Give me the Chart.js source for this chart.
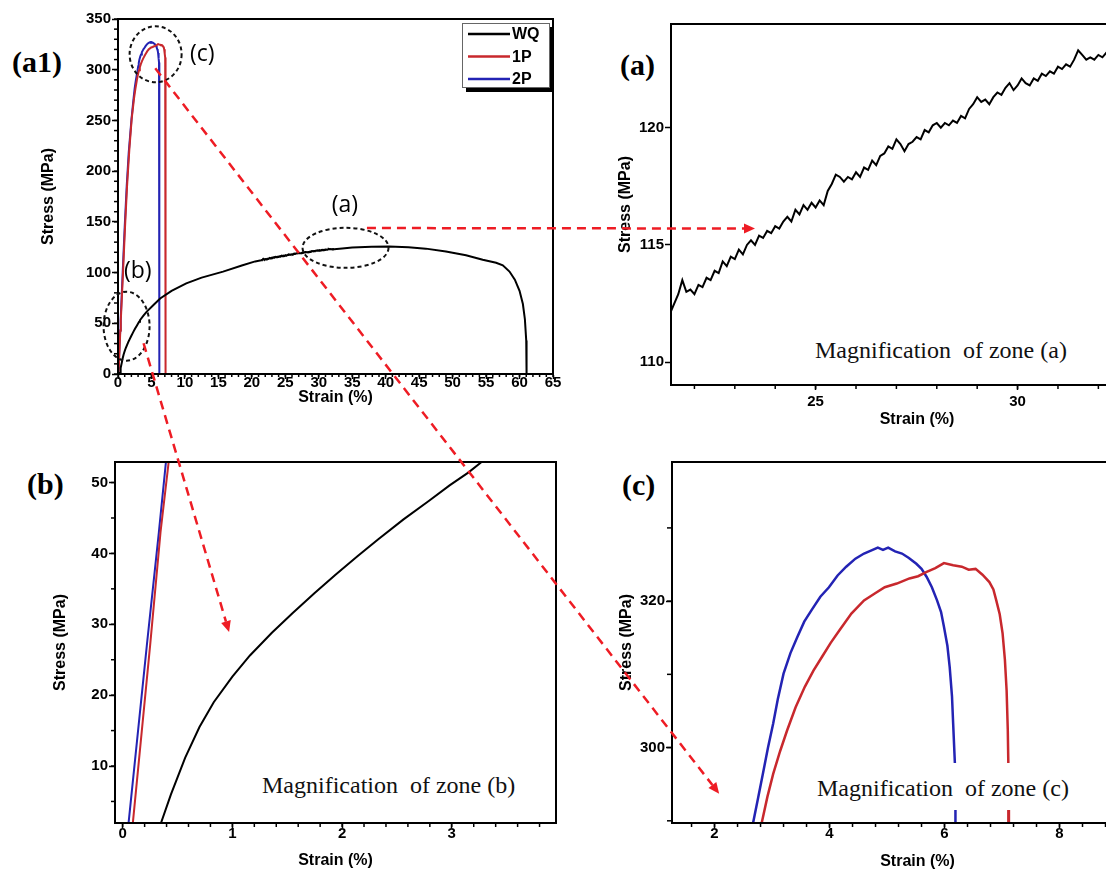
<!DOCTYPE html>
<html>
<head>
<meta charset="utf-8">
<script src="https://cdn.jsdelivr.net/npm/chart.js@4.4.1/dist/chart.umd.min.js"></script>
<style>
  html, body { margin: 0; padding: 0; background: #fff; overflow: hidden; width: 1106px; height: 870px; }
  .panel { position: absolute; }
  .tag { position: absolute; font: bold 30px "Liberation Serif", "Times New Roman", serif; line-height: 30px; color: #000; }
  .zone { position: absolute; font: 24px "Liberation Serif", "Times New Roman", serif; line-height: 24px;
          background: #fff; white-space: pre; padding: 13px 4px 10px 4px; color: #111; }
  #overlay { position: absolute; left: 0; top: 0; pointer-events: none; z-index: 5; }
</style>
</head>
<body>
<div class="tag" style="left:12px;top:47px">(a1)</div>
<div class="tag" style="left:620px;top:50px">(a)</div>
<div class="tag" style="left:27px;top:469px">(b)</div>
<div class="tag" style="left:622px;top:470px">(c)</div>
<canvas id="overlay" width="1106" height="870"></canvas>

<script>
// WQ tensile curve (strain %, stress MPa) - noisy stretch read from zone (a)
const wqStrain = [0, 0.3, 0.35, 0.44, 0.57, 0.7, 0.83, 1.0, 1.16, 1.36, 1.55, 1.75, 1.94, 2.14, 2.33, 2.56, 2.79, 2.98, 3.15, 3.28,
  3.8, 4.3, 5.3, 6.3, 8.0, 10.2, 12.5, 15.7, 18.5, 20.5,
  21.4, 21.5, 21.6, 21.7, 21.8, 21.9, 22.0, 22.1, 22.2, 22.3, 22.4, 22.5, 22.6, 22.7, 22.8, 22.9, 23.0, 23.1, 23.2, 23.3,
  23.4, 23.5, 23.6, 23.7, 23.8, 23.9, 24.0, 24.1, 24.2, 24.3, 24.4, 24.5, 24.6, 24.7, 24.8, 24.9, 25.0, 25.1, 25.2, 25.3,
  25.4, 25.5, 25.6, 25.7, 25.8, 25.9, 26.0, 26.1, 26.2, 26.3, 26.4, 26.5, 26.6, 26.7, 26.8, 26.9, 27.0, 27.1, 27.2, 27.3,
  27.4, 27.5, 27.6, 27.7, 27.8, 27.9, 28.0, 28.1, 28.2, 28.3, 28.4, 28.5, 28.6, 28.7, 28.8, 28.9, 29.0, 29.1, 29.2, 29.3,
  29.4, 29.5, 29.6, 29.7, 29.8, 29.9, 30.0, 30.1, 30.2, 30.3, 30.4, 30.5, 30.6, 30.7, 30.8, 30.9, 31.0, 31.1, 31.2, 31.3,
  31.4, 31.5, 31.6, 31.7, 31.8, 31.9, 32.0, 32.1, 32.2, 32.3,
  33.5, 35.0, 37.9, 40.5, 43.4, 46.0, 49.0, 52.0, 54.5, 56.5, 57.5, 58.5, 59.3, 60.0, 60.5, 60.8, 61.0, 61.05, 61.05];
const wqStress = [0, 1.2, 2.0, 6.0, 11.2, 15.5, 19.0, 22.6, 25.6, 28.8, 31.6, 34.4, 37.0, 39.6, 42.0, 44.8, 47.4, 49.6, 51.4, 53.0,
  57.5, 61.5, 68.0, 74.5, 82.0, 89.4, 95.0, 100.9, 107.0, 111.0,
  112.1, 112.5, 112.9, 113.5, 113.0, 113.1, 112.9, 113.3, 113.2, 113.6, 113.5, 113.9, 113.8, 114.3, 114.1, 114.5, 114.4, 114.8, 114.6, 115.0,
  115.2, 115.0, 115.4, 115.3, 115.6, 115.5, 115.8, 115.7, 116.0, 116.2, 116.0, 116.5, 116.3, 116.7, 116.5, 116.8, 116.6, 116.9, 116.7, 117.3,
  117.6, 118.0, 117.9, 117.7, 117.9, 117.8, 118.1, 117.9, 118.3, 118.2, 118.6, 118.4, 118.8, 118.9, 119.2, 119.1, 119.5, 119.3, 119.0, 119.3,
  119.4, 119.6, 119.5, 119.9, 119.8, 120.1, 120.2, 120.0, 120.2, 120.1, 120.3, 120.2, 120.5, 120.4, 120.8, 121.0, 121.3, 121.1, 121.2, 121.0,
  121.3, 121.5, 121.4, 121.7, 121.9, 121.6, 121.8, 122.1, 121.9, 121.8, 122.1, 122.0, 122.3, 122.2, 122.4, 122.3, 122.6, 122.5, 122.7, 122.6,
  122.9, 123.3, 123.1, 122.9, 123.0, 122.9, 123.1, 123.0, 123.2, 123.1,
  123.8, 124.6, 125.4, 125.6, 125.0, 123.6, 120.8, 117.0, 112.6, 109.6, 107.2, 101.0, 93.0, 82.0, 69.0, 54.0, 33.0, 12.0, 0];

// 1P curve
const p1Strain = [0, 0.093, 0.25, 0.345, 0.42, 0.75, 1.05, 1.35, 1.7, 2.05, 2.4, 2.62, 2.82, 2.92, 3.02, 3.14, 3.26, 3.41, 3.57, 3.72,
  3.87, 4.02, 4.17, 4.38, 4.6, 4.78, 4.96, 5.17, 5.39, 5.54, 5.69, 5.84, 5.99, 6.15, 6.3, 6.42, 6.54, 6.66, 6.78, 6.85,
  6.9, 6.96, 7.01, 7.05, 7.08, 7.1, 7.11, 7.12, 7.12];
const p1Stress = [0, 2, 27, 43, 53, 100, 145, 185, 222, 252, 272, 282, 289.7, 293.3, 296.4, 299.5, 302.3, 305.5, 308.3, 310.5,
  312.4, 314.3, 316.0, 318.3, 320.1, 321.0, 321.9, 322.4, 323.1, 323.4, 324.0, 324.5, 325.2, 324.9, 324.7, 324.3, 324.4, 323.6, 322.6, 321.6,
  320.1, 318.2, 315.6, 312.0, 307.8, 302.5, 297.8, 292.0, 0];

// 2P curve
const p2Strain = [0, 0.054, 0.22, 0.33, 0.395, 0.7, 1.0, 1.3, 1.6, 2.0, 2.3, 2.5, 2.67, 2.76, 2.84, 2.93, 3.02, 3.1, 3.2, 3.32,
  3.44, 3.56, 3.69, 3.84, 3.99, 4.14, 4.29, 4.45, 4.6, 4.72, 4.84, 4.93, 5.02, 5.14, 5.26, 5.38, 5.51, 5.6, 5.69, 5.78,
  5.87, 5.94, 5.99, 6.05, 6.09, 6.13, 6.15, 6.18, 6.19, 6.19];
const p2Stress = [0, 2, 27, 43, 53, 100, 145, 185, 218, 250, 270, 282, 289.7, 293.2, 296.4, 300.0, 303.3, 306.6, 310.1, 312.9,
  315.1, 317.2, 318.8, 320.6, 321.9, 323.5, 324.7, 325.8, 326.5, 326.9, 327.3, 327.0, 327.3, 326.8, 326.5, 325.9, 325.1, 324.4, 323.3, 321.9,
  320.1, 318.5, 316.5, 313.9, 311.0, 307.0, 303.3, 297.9, 292.0, 0];

// tick labels per panel
const a1StrainTicks = [0, 5, 10, 15, 20, 25, 30, 35, 40, 45, 50, 55, 60, 65];
const a1StressTicks = [0, 50, 100, 150, 200, 250, 300, 350];
const aStrainTicks = [25, 30];
const aStressTicks = [110, 115, 120];
const bStrainTicks = [0, 1, 2, 3];
const bStressTicks = [10, 20, 30, 40, 50];
const cStrainTicks = [2, 4, 6, 8];
const cStressTicks = [300, 320];

const SANS = '"Liberation Sans", Arial, sans-serif';
const toPts = (xs, ys) => xs.map((x, i) => ({ x, y: ys[i] }));

const minorTicks = {
  id: 'minorTicks',
  afterDraw(chart, args, opts) {
    const ctx = chart.ctx;
    const { left, bottom } = chart.chartArea;
    ctx.save();
    ctx.strokeStyle = '#000';
    ctx.lineWidth = 1.5;
    ['x', 'y'].forEach(axis => {
      const o = opts[axis];
      if (!o) return;
      const s = chart.scales[axis];
      for (let k = Math.ceil(s.min / o.step - 1e-6); k * o.step <= s.max + 1e-6; k++) {
        const p = s.getPixelForValue(k * o.step);
        ctx.beginPath();
        if (axis === 'x') { ctx.moveTo(p, bottom); ctx.lineTo(p, bottom + o.len); }
        else { ctx.moveTo(left, p); ctx.lineTo(left - o.len, p); }
        ctx.stroke();
      }
    });
    ctx.restore();
  }
};

const frame = {
  id: 'frame',
  afterDraw(chart) {
    const { left, top, right, bottom } = chart.chartArea;
    const ctx = chart.ctx;
    ctx.save();
    ctx.strokeStyle = '#000';
    ctx.lineWidth = 2;
    ctx.strokeRect(left, top, right - left, bottom - top);
    ctx.restore();
  }
};

const boxLegend = {
  id: 'boxLegend',
  afterDraw(chart, args, o) {
    if (!o.show) return;
    const ctx = chart.ctx;
    const x = chart.chartArea.right - 3 - 88, y = chart.chartArea.top + 4;
    ctx.save();
    ctx.fillStyle = '#000';
    ctx.fillRect(x + 4, y + 4, 88, 65);
    ctx.fillStyle = '#fff';
    ctx.fillRect(x, y, 88, 65);
    ctx.strokeStyle = '#666';
    ctx.lineWidth = 1;
    ctx.strokeRect(x + 0.5, y + 0.5, 87, 64);
    ctx.font = 'bold 16px ' + SANS;
    ctx.textBaseline = 'middle';
    chart.data.datasets.forEach((d, i) => {
      const yy = y + 11 + i * 22.5;
      ctx.strokeStyle = d.borderColor;
      ctx.lineWidth = 2.5;
      ctx.beginPath(); ctx.moveTo(x + 6, yy); ctx.lineTo(x + 48, yy); ctx.stroke();
      ctx.fillStyle = '#000';
      ctx.fillText(d.label, x + 50, yy + 1);
    });
    ctx.restore();
  }
};

const panels = {
  a1: { L: 118, T: 19, R: 553, B: 374, yTitleX: 49, xTitleY: 397, xPad: -5, xMin: 0, xMax: 65, yMin: 0, yMax: 350,
        xTicks: a1StrainTicks, yTicks: a1StressTicks, xMinor: { step: 1, len: 3 }, yMinor: { step: 10, len: 4 }, lw: 2, legend: true },
  a:  { L: 671, T: 24, R: 1163, B: 385, yTitleX: 626, xTitleY: 419, xPad: 3, xMin: 21.42, xMax: 33.6, yMin: 109.03, yMax: 124.42,
        xTicks: aStrainTicks, yTicks: aStressTicks, xMinor: { step: 1, len: 4 }, yMinor: null, lw: 2 },
  b:  { L: 115, T: 462, R: 556, B: 823, yTitleX: 61, xTitleY: 860, xPad: -3, xMin: -0.07, xMax: 3.95, yMin: 1.96, yMax: 52.9,
        xTicks: bStrainTicks, yTicks: bStressTicks, xMinor: { step: 0.2, len: 4 }, yMinor: { step: 5, len: 4 }, lw: 2 },
  c:  { L: 672, T: 462, R: 1163, B: 823, yTitleX: 627, xTitleY: 861, xPad: -3, xMin: 1.26, xMax: 9.8, yMin: 289.7, yMax: 339.0,
        xTicks: cStrainTicks, yTicks: cStressTicks, xMinor: { step: 0.4, len: 4 }, yMinor: { step: 10, len: 5 }, lw: 2.5 }
};

function makePanel(p) {
  const lh = 16 * 1.2;
  const padTop = 12, padRight = 14;
  const yW = Math.round(p.L - (p.yTitleX - lh / 2));
  const xH = Math.round(p.xTitleY + lh / 2 - p.B);
  p.left = p.L - yW;
  p.top = p.T - padTop;
  const w = (p.R - p.L) + yW + padRight;
  const h = (p.B - p.T) + padTop + xH;
  const div = document.createElement('div');
  div.className = 'panel';
  div.style.left = p.left + 'px';
  div.style.top = p.top + 'px';
  const cv = document.createElement('canvas');
  cv.width = w; cv.height = h;
  cv.style.width = w + 'px'; cv.style.height = h + 'px';
  div.appendChild(cv);
  document.body.insertBefore(div, document.getElementById('overlay'));

  const tickFont = { family: SANS, size: 15, weight: 'bold' };
  const titleFont = { family: SANS, size: 16, weight: 'bold' };
  const axis = (min, max, ticks, title, isX) => ({
    type: 'linear', min, max,
    afterBuildTicks: s => { s.ticks = ticks.filter(v => v >= min && v <= max).map(v => ({ value: v })); },
    afterFit: s => { if (isX) s.height = xH; else s.width = yW; },
    border: { display: true, color: '#000', width: 2 },
    grid: { display: true, drawOnChartArea: false, drawTicks: true, tickLength: isX ? 5 : 6, tickColor: '#000', tickWidth: 1.5 },
    ticks: { color: '#000', font: tickFont, padding: isX ? p.xPad : 1, maxRotation: 0, autoSkip: false },
    title: { display: true, text: title, color: '#000', font: titleFont, padding: 0 }
  });

  p.chart = new Chart(cv, {
    type: 'scatter',
    data: {
      datasets: [
        { label: 'WQ', data: toPts(wqStrain, wqStress), borderColor: '#000000' },
        { label: '1P', data: toPts(p1Strain, p1Stress), borderColor: '#c8282d' },
        { label: '2P', data: toPts(p2Strain, p2Stress), borderColor: '#2323b4' }
      ].map(d => Object.assign(d, { showLine: true, pointRadius: 0, borderWidth: p.lw, tension: 0 }))
    },
    options: {
      responsive: false,
      animation: false,
      layout: { padding: { top: padTop, right: padRight, left: 0, bottom: 0 } },
      scales: {
        x: axis(p.xMin, p.xMax, p.xTicks, 'Strain (%)', true),
        y: axis(p.yMin, p.yMax, p.yTicks, 'Stress (MPa)', false)
      },
      plugins: {
        legend: { display: false },
        tooltip: { enabled: false },
        minorTicks: { x: p.xMinor, y: p.yMinor },
        boxLegend: { show: !!p.legend }
      }
    },
    plugins: [minorTicks, frame, boxLegend]
  });
}

Object.values(panels).forEach(makePanel);

// zone captions, white boxes hide the curves behind them
[['Magnification  of zone (a)', 811, 325], ['Magnification  of zone (b)', 258, 760], ['Magnification  of zone (c)', 813, 763]]
  .forEach(([t, x, y]) => {
    const d = document.createElement('div');
    d.className = 'zone';
    d.textContent = t;
    d.style.left = x + 'px';
    d.style.top = y + 'px';
    document.body.insertBefore(d, document.getElementById('overlay'));
  });

// annotations anchored in data coordinates of each panel
const zoneRings = [
  { x: 5.62, y: 315.2, rx: 26, ry: 28, label: '(c)', lx: 12.6, ly: 314.6 },
  { x: 34.0, y: 124.4, rx: 43, ry: 20, label: '(a)', lx: 33.9, ly: 166.6 },
  { x: 1.28, y: 47.1, rx: 23, ry: 34.5, label: '(b)', lx: 2.95, ly: 101.5 }
];
const zoneArrows = [
  { from: ['a1', 37.2, 143.9], to: ['a', 23.5, 115.7] },
  { from: ['a1', 3.82, 30.3], to: ['b', 0.97, 28.9] },
  { from: ['a1', 5.57, 301.4], to: ['c', 2.08, 293.7] }
];

const g = document.getElementById('overlay').getContext('2d');
function pt(name, x, y) {
  const p = panels[name];
  return [p.left + p.chart.scales.x.getPixelForValue(x), p.top + p.chart.scales.y.getPixelForValue(y)];
}

g.strokeStyle = '#111';
g.lineWidth = 2;
g.setLineDash([4, 3]);
g.font = '23px "Open Sans", sans-serif';
g.textAlign = 'center';
g.textBaseline = 'middle';
g.fillStyle = '#000';
zoneRings.forEach(r => {
  const [cx, cy] = pt('a1', r.x, r.y);
  g.beginPath();
  g.ellipse(cx, cy, r.rx, r.ry, 0, 0, Math.PI * 2);
  g.stroke();
  const [tx, ty] = pt('a1', r.lx, r.ly);
  g.fillText(r.label, tx, ty);
});

g.strokeStyle = '#ee1c24';
g.fillStyle = '#ee1c24';
g.lineWidth = 2.5;
zoneArrows.forEach(a => {
  const [x1, y1] = pt(...a.from);
  const [x2, y2] = pt(...a.to);
  const ang = Math.atan2(y2 - y1, x2 - x1);
  const head = 11, half = 5;
  g.setLineDash([9, 6]);
  g.beginPath();
  g.moveTo(x1, y1);
  g.lineTo(x2 - head * Math.cos(ang), y2 - head * Math.sin(ang));
  g.stroke();
  g.setLineDash([]);
  g.beginPath();
  g.moveTo(x2, y2);
  g.lineTo(x2 - head * Math.cos(ang) + half * Math.sin(ang), y2 - head * Math.sin(ang) - half * Math.cos(ang));
  g.lineTo(x2 - head * Math.cos(ang) - half * Math.sin(ang), y2 - head * Math.sin(ang) + half * Math.cos(ang));
  g.closePath();
  g.fill();
});
</script>
</body>
</html>
